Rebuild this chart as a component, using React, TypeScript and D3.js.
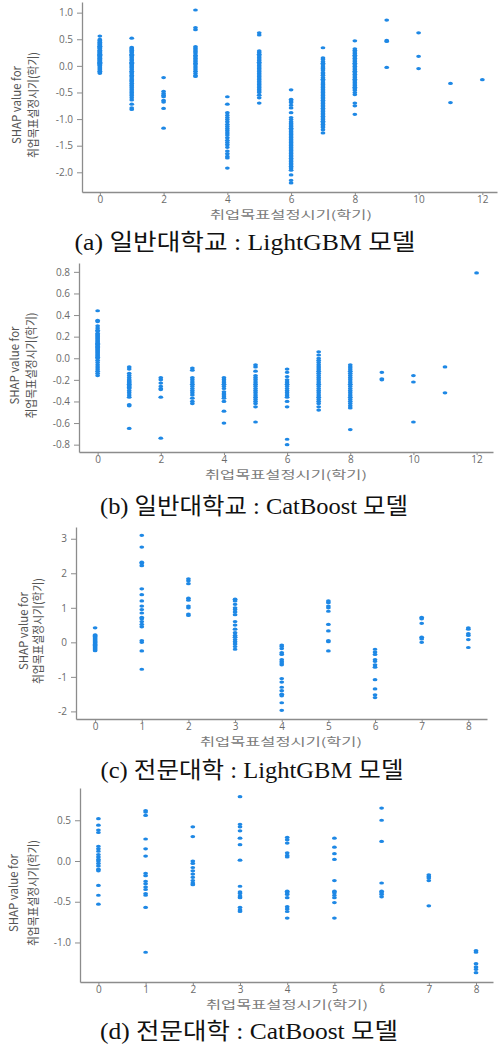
import { useEffect, useRef } from 'react'
import * as d3 from 'd3'

// tick labels
const univXTicks = [0, 2, 4, 6, 8, 10, 12]
const collegeXTicks = [0, 1, 2, 3, 4, 5, 6, 7, 8]
const univLgbmYTicks = [-2, -1.5, -1, -0.5, 0, 0.5, 1]
const univCatYTicks = [-0.8, -0.6, -0.4, -0.2, 0, 0.2, 0.4, 0.6, 0.8]
const collegeLgbmYTicks = [-2, -1, 0, 1, 2, 3]
const collegeCatYTicks = [-1, -0.5, 0, 0.5]

// SHAP values, one list per semester (index = 취업목표설정시기)
const univLgbm: number[][] = [
  [0.56, 0.5, 0.48, 0.47, 0.45, 0.44, 0.42, 0.41, 0.4, 0.38, 0.37, 0.36, 0.35, 0.34, 0.33, 0.32, 0.3, 0.29, 0.28, 0.27, 0.26, 0.25, 0.24, 0.23, 0.22, 0.21, 0.2, 0.19, 0.18, 0.17, 0.16, 0.15, 0.14, 0.13, 0.12, 0.11, 0.1, 0.09, 0.08, 0.07, 0.06, 0.05, 0.04, 0.03, 0.02, 0.01, 0.0, -0.02, -0.04, -0.06, -0.08, -0.1, -0.12, -0.14],
  [0.52, 0.35, 0.33, 0.31, 0.29, 0.27, 0.25, 0.22, 0.2, 0.17, 0.15, 0.12, 0.1, 0.07, 0.05, 0.03, 0.0, -0.02, -0.04, -0.07, -0.1, -0.12, -0.15, -0.18, -0.2, -0.23, -0.26, -0.28, -0.3, -0.33, -0.36, -0.38, -0.41, -0.44, -0.47, -0.5, -0.53, -0.56, -0.6, -0.64, -0.72, -0.79, -0.82],
  [-0.22, -0.48, -0.52, -0.55, -0.58, -0.65, -0.68, -0.8, -1.17],
  [1.05, 0.72, 0.68, 0.36, 0.33, 0.3, 0.27, 0.24, 0.2, 0.17, 0.14, 0.11, 0.08, 0.05, 0.02, -0.02, -0.06, -0.1, -0.14, -0.18, -0.2],
  [-0.58, -0.72, -0.88, -0.93, -0.97, -1.01, -1.05, -1.1, -1.14, -1.18, -1.22, -1.26, -1.3, -1.35, -1.4, -1.44, -1.48, -1.53, -1.6, -1.65, -1.7, -1.73, -1.92],
  [0.62, 0.58, 0.28, 0.25, 0.22, 0.19, 0.16, 0.13, 0.1, 0.07, 0.04, 0.01, -0.02, -0.05, -0.08, -0.11, -0.14, -0.17, -0.2, -0.23, -0.26, -0.29, -0.32, -0.35, -0.38, -0.41, -0.44, -0.47, -0.5, -0.55, -0.6, -0.7],
  [-0.45, -0.63, -0.66, -0.69, -0.74, -0.79, -0.88, -0.97, -1.01, -1.05, -1.08, -1.11, -1.14, -1.17, -1.2, -1.23, -1.26, -1.29, -1.32, -1.35, -1.38, -1.41, -1.44, -1.47, -1.5, -1.53, -1.56, -1.59, -1.62, -1.65, -1.68, -1.71, -1.74, -1.77, -1.8, -1.83, -1.86, -1.89, -1.92, -1.96, -2.05, -2.15, -2.2],
  [0.34, 0.15, 0.12, 0.08, 0.05, 0.02, -0.02, -0.05, -0.08, -0.12, -0.15, -0.18, -0.22, -0.25, -0.28, -0.32, -0.35, -0.38, -0.41, -0.44, -0.47, -0.5, -0.53, -0.56, -0.59, -0.62, -0.65, -0.68, -0.71, -0.74, -0.77, -0.8, -0.83, -0.86, -0.89, -0.92, -0.95, -0.98, -1.01, -1.04, -1.07, -1.1, -1.13, -1.16, -1.2, -1.26],
  [0.47, 0.32, 0.29, 0.26, 0.23, 0.2, 0.17, 0.14, 0.11, 0.08, 0.05, 0.02, -0.01, -0.04, -0.07, -0.1, -0.13, -0.16, -0.19, -0.22, -0.25, -0.28, -0.31, -0.34, -0.37, -0.4, -0.43, -0.46, -0.5, -0.54, -0.7, -0.75, -0.91],
  [0.86, 0.48, 0.46, -0.03],
  [0.62, 0.18, -0.05],
  [-0.33, -0.69],
  [-0.26]
]

const univCat: number[][] = [
  [0.44, 0.35, 0.34, 0.3, 0.28, 0.26, 0.25, 0.23, 0.22, 0.21, 0.2, 0.19, 0.18, 0.17, 0.16, 0.15, 0.14, 0.13, 0.12, 0.11, 0.1, 0.09, 0.08, 0.07, 0.06, 0.05, 0.04, 0.03, 0.02, 0.01, 0.0, -0.02, -0.04, -0.06, -0.08, -0.1, -0.12, -0.14, -0.16],
  [-0.08, -0.1, -0.14, -0.16, -0.18, -0.2, -0.21, -0.22, -0.23, -0.24, -0.25, -0.26, -0.27, -0.28, -0.3, -0.32, -0.34, -0.36, -0.43, -0.44, -0.65],
  [-0.18, -0.2, -0.23, -0.26, -0.28, -0.29, -0.36, -0.74],
  [-0.09, -0.11, -0.18, -0.2, -0.22, -0.24, -0.26, -0.28, -0.3, -0.32, -0.34, -0.37, -0.4, -0.42],
  [-0.18, -0.2, -0.22, -0.24, -0.26, -0.28, -0.31, -0.33, -0.35, -0.37, -0.4, -0.49, -0.6],
  [-0.06, -0.08, -0.12, -0.16, -0.18, -0.2, -0.22, -0.24, -0.26, -0.28, -0.3, -0.32, -0.34, -0.36, -0.38, -0.4, -0.42, -0.45, -0.59],
  [-0.1, -0.13, -0.17, -0.2, -0.22, -0.24, -0.26, -0.28, -0.3, -0.32, -0.34, -0.36, -0.4, -0.45, -0.75, -0.8],
  [0.06, 0.03, 0.0, -0.02, -0.04, -0.06, -0.08, -0.1, -0.12, -0.14, -0.16, -0.18, -0.2, -0.22, -0.24, -0.26, -0.28, -0.3, -0.32, -0.34, -0.36, -0.38, -0.4, -0.42, -0.45, -0.48],
  [-0.06, -0.08, -0.1, -0.12, -0.14, -0.16, -0.18, -0.2, -0.22, -0.24, -0.26, -0.28, -0.3, -0.32, -0.34, -0.36, -0.38, -0.4, -0.42, -0.44, -0.46, -0.66],
  [-0.13, -0.19, -0.2],
  [-0.16, -0.22, -0.59],
  [-0.08, -0.32],
  [0.79]
]

const collegeLgbm: number[][] = [
  [0.42, 0.22, 0.2, 0.17, 0.14, 0.11, 0.08, 0.05, 0.02, 0.0, -0.03, -0.06, -0.09, -0.12, -0.15, -0.18, -0.21, -0.24],
  [3.1, 2.76, 2.32, 2.28, 2.22, 1.55, 1.38, 1.2, 1.05, 0.95, 0.85, 0.72, 0.68, 0.6, 0.52, 0.45, 0.05, 0.0, -0.25, -0.78],
  [1.84, 1.78, 1.7, 1.28, 1.22, 1.05, 1.0, 0.82, 0.78],
  [1.25, 1.2, 1.1, 1.0, 0.95, 0.88, 0.8, 0.6, 0.5, 0.38, 0.28, 0.2, 0.15, 0.08, 0.02, -0.05, -0.12, -0.2],
  [-0.08, -0.12, -0.18, -0.3, -0.35, -0.5, -0.55, -0.6, -0.65, -1.05, -1.15, -1.3, -1.4, -1.5, -1.55, -1.75, -1.97],
  [1.2, 1.15, 1.05, 1.0, 0.9, 0.52, 0.33, 0.05, 0.02, -0.25],
  [-0.2, -0.28, -0.35, -0.5, -0.55, -0.65, -0.72, -1.08, -1.35, -1.52, -1.6],
  [0.72, 0.68, 0.55, 0.15, 0.1, 0.0],
  [0.42, 0.38, 0.25, 0.2, 0.08, -0.15]
]

const collegeCat: number[][] = [
  [0.52, 0.44, 0.38, 0.35, 0.18, 0.15, 0.12, 0.08, 0.05, 0.02, 0.0, -0.03, -0.06, -0.1, -0.12, -0.3, -0.42, -0.53],
  [0.62, 0.6, 0.56, 0.27, 0.15, 0.06, -0.15, -0.18, -0.25, -0.28, -0.32, -0.35, -0.4, -0.42, -0.57, -1.12],
  [0.42, 0.3, 0.0, -0.03, -0.08, -0.12, -0.16, -0.2, -0.24, -0.27, -0.29],
  [0.79, 0.45, 0.42, 0.37, 0.28, 0.2, 0.01, -0.31, -0.38, -0.4, -0.43, -0.45, -0.57, -0.6, -0.62],
  [0.29, 0.26, 0.22, 0.1, 0.07, 0.05, -0.37, -0.39, -0.41, -0.45, -0.56, -0.59, -0.62, -0.7],
  [0.28, 0.17, 0.09, 0.02, -0.24, -0.37, -0.39, -0.42, -0.45, -0.51, -0.7],
  [0.65, 0.5, 0.24, -0.27, -0.37, -0.39, -0.41, -0.44],
  [-0.17, -0.19, -0.21, -0.24, -0.55],
  [-1.1, -1.12, -1.26, -1.3, -1.33, -1.37]
]

const captions = [
  '(a) 일반대학교 : LightGBM 모델',
  '(b) 일반대학교 : CatBoost 모델',
  '(c) 전문대학 : LightGBM 모델',
  '(d) 전문대학 : CatBoost 모델'
]

const xTitle = '취업목표설정시기(학기)'
const yTitle1 = 'SHAP value for'
const yTitle2 = '취업목표설정시기(학기)'

// layout of each subplot
const panels = [
  { data: univLgbm, xTicks: univXTicks, yTicks: univLgbmYTicks, fmt: (d: number) => d.toFixed(1),
    left: 82, right: 497, top: 2, bottom: 192, xDomain: [-0.56, 12.46], yDomain: [-2.37, 1.2],
    lab1: 15, lab2: 32, capX: 245, capY: 250, capLen: 341, titleX: 291 },
  { data: univCat, xTicks: univXTicks, yTicks: univCatYTicks, fmt: (d: number) => d.toFixed(1),
    left: 79, right: 493, top: 263, bottom: 452, xDomain: [-0.59, 12.52], yDomain: [-0.868, 0.882],
    lab1: 13, lab2: 30, capX: 254, capY: 514, capLen: 308, titleX: 286 },
  { data: collegeLgbm, xTicks: collegeXTicks, yTicks: collegeLgbmYTicks, fmt: (d: number) => String(d),
    left: 76, right: 487, top: 527, bottom: 719, xDomain: [-0.41, 8.4], yDomain: [-2.22, 3.34],
    lab1: 22, lab2: 37, capX: 252, capY: 778, capLen: 303, titleX: 281 },
  { data: collegeCat, xTicks: collegeXTicks, yTicks: collegeCatYTicks, fmt: (d: number) => d.toFixed(1),
    left: 80, right: 493, top: 788, bottom: 982, xDomain: [-0.39, 8.36], yDomain: [-1.485, 0.896],
    lab1: 12, lab2: 32, capX: 249, capY: 1039, capLen: 298, titleX: 287 }
]

export default function App() {
  const svgRef = useRef<SVGSVGElement>(null)

  useEffect(() => {
    document.body.style.margin = '0'
    const svg = d3.select(svgRef.current)
    svg.selectAll('*').remove()

    panels.forEach((p, pi) => {
      const g = svg.append('g')
      const x = d3.scaleLinear(p.xDomain, [p.left, p.right])
      const y = d3.scaleLinear(p.yDomain, [p.bottom, p.top])

      // axes
      const yAxis = d3.axisLeft(y).tickValues(p.yTicks).tickFormat(d => p.fmt(+d))
        .tickSize(5).tickSizeOuter(0).tickPadding(4)
      const xAxis = d3.axisBottom(x).tickValues(p.xTicks).tickFormat(d => String(d))
        .tickSize(3).tickSizeOuter(0).tickPadding(1)
      g.append('g').attr('transform', `translate(${p.left},0)`).call(yAxis)
      g.append('g').attr('transform', `translate(0,${p.bottom})`).call(xAxis)
      g.selectAll('.domain').attr('stroke', '#8c8c8c').attr('stroke-width', 1.3)
      g.selectAll('.tick line').attr('stroke', '#8c8c8c')
      g.selectAll('.tick text')
        .attr('fill', '#6a6a6a')
        .style('font-family', '"Open Sans", "DejaVu Sans", sans-serif')
        .style('font-size', '10px')

      // dots
      const pts = p.data.flatMap((vals, sem) => vals.map(v => ({ sem, v })))
      g.append('g')
        .selectAll('ellipse')
        .data(pts)
        .join('ellipse')
        .attr('cx', d => x(d.sem))
        .attr('cy', d => y(d.v))
        .attr('rx', 2.4)
        .attr('ry', 1.6)
        .attr('fill', '#1E88E5')

      // axis titles
      g.append('text')
        .text(xTitle)
        .attr('x', p.titleX)
        .attr('y', p.bottom + 27)
        .attr('text-anchor', 'middle')
        .attr('textLength', 162)
        .attr('lengthAdjust', 'spacingAndGlyphs')
        .attr('fill', '#7a7a7a')
        .style('font-family', '"Noto Sans CJK KR", sans-serif')
        .style('font-size', '11px')

      const midY = (p.top + p.bottom) / 2 + 8
      ;[[yTitle1, p.lab1, 78], [yTitle2, p.lab2, 106]].forEach(([t, lx, len]) => {
        g.append('text')
          .text(t as string)
          .attr('transform', `translate(${lx},${midY}) rotate(-90)`)
          .attr('text-anchor', 'middle')
          .attr('dominant-baseline', 'central')
          .attr('textLength', len as number)
          .attr('lengthAdjust', 'spacingAndGlyphs')
          .attr('fill', '#555')
          .style('font-family', '"Noto Sans CJK KR", sans-serif')
          .style('font-size', '12px')
      })

      // caption
      g.append('text')
        .text(captions[pi])
        .attr('x', p.capX)
        .attr('y', p.capY)
        .attr('text-anchor', 'middle')
        .attr('textLength', p.capLen)
        .attr('lengthAdjust', 'spacingAndGlyphs')
        .attr('fill', '#111')
        .style('font-family', '"Liberation Serif", "Noto Sans CJK KR", serif')
        .style('font-size', '23px')
    })
  }, [])

  return (
    <svg ref={svgRef} width={498} height={1045} style={{ display: 'block', background: '#fff' }} />
  )
}
